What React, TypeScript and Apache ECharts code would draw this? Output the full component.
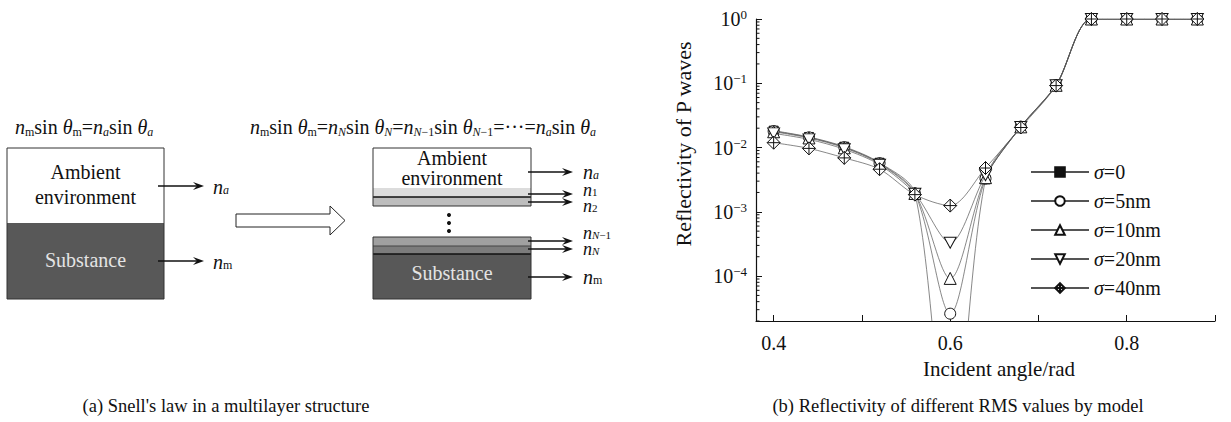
import React, { useEffect, useRef } from 'react';
import * as echarts from 'echarts';

// ---- data ----
const angles = [0.40, 0.44, 0.48, 0.52, 0.56, 0.60, 0.64, 0.68, 0.72, 0.76, 0.80, 0.84, 0.88];
const sigma0 = [0.0183, 0.0146, 0.0103, 0.0058, 0.00195, 0.0000001, 0.0032, 0.0212, 0.094, 1, 1, 1, 1];
const sigma5 = [0.0180, 0.0144, 0.0101, 0.0057, 0.00194, 0.000026, 0.0033, 0.0211, 0.094, 1, 1, 1, 1];
const sigma10 = [0.0176, 0.0141, 0.0099, 0.0056, 0.00193, 0.000092, 0.0034, 0.0210, 0.093, 1, 1, 1, 1];
const sigma20 = [0.0166, 0.0134, 0.0094, 0.0054, 0.00191, 0.00033, 0.0037, 0.0209, 0.093, 1, 1, 1, 1];
const sigma40 = [0.0119, 0.0097, 0.0069, 0.0046, 0.00185, 0.00125, 0.0048, 0.0205, 0.092, 1, 1, 1, 1];
const seriesNames = ['σ=0', 'σ=5nm', 'σ=10nm', 'σ=20nm', 'σ=40nm'];
const xTickValues = [0.4, 0.5, 0.6, 0.7, 0.8, 0.9];
const xLabelValues = [0.4, 0.6, 0.8];
const xMin = 0.38;
const xMax = 0.9;
const yMin = 2e-5;
const yMax = 1;
const yMinorTicks: number[] = [];
for (let k = -5; k < 0; k++) {
  for (let m = 2; m <= 9; m++) {
    const v = m * Math.pow(10, k);
    if (v >= yMin && v <= yMax) yMinorTicks.push(v);
  }
}

const F = 'Liberation Serif';

function makeRich(size: number, subSize: number, lh: number, slh: number) {
  return {
    n: { fontFamily: F, fontSize: size, fontStyle: 'italic', lineHeight: lh, verticalAlign: 'middle', fill: '#111' },
    t: { fontFamily: F, fontSize: size, fontStyle: 'italic', lineHeight: lh, verticalAlign: 'middle', fill: '#111' },
    r: { fontFamily: F, fontSize: size, lineHeight: lh, verticalAlign: 'middle', fill: '#111' },
    s: { fontFamily: F, fontSize: subSize, lineHeight: slh, verticalAlign: 'bottom', fill: '#111' },
    si: { fontFamily: F, fontSize: subSize, fontStyle: 'italic', lineHeight: slh, verticalAlign: 'bottom', fill: '#111' },
  } as any;
}
const formulaRich = makeRich(20, 12, 22, 9);
const labelRich = makeRich(20, 12, 18, 5);
const stackRich = makeRich(18, 11, 15, 4);

function buildGraphics() {
  const g: any[] = [];
  const T = (x: number, y: number, text: string, o: any = {}) =>
    g.push({
      type: 'text', x, y, rotation: o.rotation || 0, silent: true,
      style: {
        text, fontFamily: F, fontSize: o.size || 20, fontStyle: o.italic ? 'italic' : 'normal',
        fill: o.fill || '#111', align: o.align || 'left', verticalAlign: 'middle', rich: o.rich,
      },
    });
  const R = (x: number, y: number, w: number, h: number, fill: string, stroke?: string) =>
    g.push({ type: 'rect', silent: true, shape: { x, y, width: w, height: h }, style: { fill, stroke: stroke || null, lineWidth: 1 } });
  const L = (x1: number, y1: number, x2: number, y2: number, w = 1, c = '#111') =>
    g.push({ type: 'line', silent: true, shape: { x1, y1, x2, y2 }, style: { stroke: c, lineWidth: w } });
  const A = (x1: number, x2: number, y: number) => {
    L(x1, y, x2 - 5, y, 1.3);
    g.push({ type: 'polygon', silent: true, shape: { points: [[x2, y], [x2 - 11, y - 4], [x2 - 7, y], [x2 - 11, y + 4]] }, style: { fill: '#111' } });
  };

  // formulas
  T(15, 127, '{n|n}{s|m}{r|sin }{t|θ}{s|m}{r|=}{n|n}{si|a}{r|sin }{t|θ}{si|a}', { rich: formulaRich });
  T(250, 127,
    '{n|n}{s|m}{r|sin }{t|θ}{s|m}{r|=}{n|n}{si|N}{r|sin }{t|θ}{si|N}{r|=}{n|n}{si|N}{s|−1}{r|sin }{t|θ}{si|N}{s|−1}{r|=···=}{n|n}{si|a}{r|sin }{t|θ}{si|a}',
    { rich: formulaRich });

  // left single box
  R(7, 148, 157, 75, '#ffffff');
  R(7, 223, 157, 76, '#585858');
  R(7, 148, 157, 151, 'none', '#333');
  T(85.5, 172, 'Ambient', { align: 'center' });
  T(85.5, 197, 'environment', { align: 'center' });
  T(85.5, 260, 'Substance', { align: 'center', fill: '#e4e4e4' });
  A(158, 204, 186);
  A(158, 204, 261);
  T(213, 187, '{n|n}{si|a}', { rich: labelRich });
  T(213, 262, '{n|n}{s|m}', { rich: labelRich });

  // hollow arrow
  g.push({
    type: 'polygon', silent: true,
    shape: { points: [[236, 214], [330, 214], [330, 206], [345, 220.5], [330, 235], [330, 227], [236, 227]] },
    style: { fill: '#fff', stroke: '#222', lineWidth: 1 },
  });

  // right multilayer stack (upper)
  R(373, 148, 158, 40, '#ffffff');
  R(373, 188, 158, 9, '#dcdcdc');
  R(373, 197, 158, 9, '#bdbdbd');
  L(373, 197, 531, 197, 1.6);
  R(373, 148, 158, 58, 'none', '#333');
  T(452, 158, 'Ambient', { align: 'center' });
  T(452, 178, 'environment', { align: 'center' });
  // dots
  [215, 223, 231].forEach((cy) => g.push({ type: 'circle', silent: true, shape: { cx: 449, cy, r: 2 }, style: { fill: '#111' } }));
  // lower
  R(373, 237, 158, 9, '#a0a0a0');
  R(373, 246, 158, 8, '#7c7c7c');
  R(373, 254, 158, 45, '#585858');
  L(373, 246, 531, 246, 1, '#444');
  L(373, 254, 531, 254, 1.6, '#111');
  R(373, 237, 158, 62, 'none', '#333');
  T(452, 273, 'Substance', { align: 'center', fill: '#e4e4e4' });
  [172, 194, 202, 241, 249, 277].forEach((y) => A(528, 573, y));
  T(583, 172, '{n|n}{si|a}', { rich: labelRich });
  T(583, 190, '{n|n}{s|1}', { rich: stackRich });
  T(583, 206, '{n|n}{s|2}', { rich: stackRich });
  T(583, 233, '{n|n}{si|N}{s|−1}', { rich: stackRich });
  T(583, 249, '{n|n}{si|N}', { rich: stackRich });
  T(583, 277, '{n|n}{s|m}', { rich: labelRich });

  // captions and axis names
  T(226, 406, "(a) Snell's law in a multilayer structure", { align: 'center', size: 18.5 });
  T(958, 406, '(b) Reflectivity of different RMS values by model', { align: 'center', size: 18.5 });
  T(999, 369, 'Incident angle/rad', { align: 'center', size: 21 });
  T(683, 144, 'Reflectivity of P waves', { align: 'center', rotation: Math.PI / 2, size: 22 });
  return g;
}

function lineSeries(name: string, values: number[], symbol: string, size: any, fill: string, z: number) {
  return {
    name, type: 'line', z,
    data: angles.map((a, i) => [a, values[i]]),
    smooth: 0.3,
    symbol, symbolSize: size, showSymbol: true,
    lineStyle: { color: '#555', width: 0.7 },
    itemStyle: { color: fill, borderColor: '#111', borderWidth: 1 },
  };
}

export default function App() {
  const ref = useRef<HTMLDivElement>(null);
  useEffect(() => {
    if (!ref.current) return;
    const chart = echarts.init(ref.current, null, { renderer: 'svg' });
    const option: any = {
      animation: false,
      backgroundColor: '#fff',
      grid: { left: 756, top: 19, right: 16, bottom: 101, containLabel: false },
      xAxis: {
        type: 'value', min: xMin, max: xMax,
        axisLine: { lineStyle: { color: '#111', width: 1.2 } },
        axisTick: { inside: true, length: 6, customValues: xTickValues, lineStyle: { color: '#111' } },
        axisLabel: {
          customValues: xLabelValues, formatter: (v: number) => v.toFixed(1), margin: 12,
          fontFamily: F, fontSize: 20, color: '#111',
        },
        splitLine: { show: false },
      },
      yAxis: {
        type: 'log', logBase: 10, min: yMin, max: yMax,
        axisLine: { show: true, lineStyle: { color: '#111', width: 1.2 } },
        axisTick: { show: true, inside: true, length: 6, lineStyle: { color: '#111' } },
        axisLabel: {
          margin: 9, color: '#111',
          formatter: (v: number) => {
            const l = Math.log10(v);
            const e = Math.round(l);
            if (Math.abs(l - e) > 1e-6) return '';
            return e === 0 ? '{b|10}{p|0}' : `{b|10}{p|−${-e}}`;
          },
          rich: {
            b: { fontFamily: F, fontSize: 20, lineHeight: 22, color: '#111' },
            p: { fontFamily: F, fontSize: 13, lineHeight: 12, verticalAlign: 'top', color: '#111' },
          },
        },
        splitLine: { show: false },
      },
      legend: {
        orient: 'vertical', left: 1025, top: 157,
        itemWidth: 58, itemHeight: 12, itemGap: 9,
        data: seriesNames,
        formatter: (name: string) => `{i|σ}{r|${name.slice(1)}}`,
        textStyle: {
          fontFamily: F, fontSize: 20, color: '#111', lineHeight: 20,
          rich: {
            i: { fontFamily: F, fontSize: 20, fontStyle: 'italic', color: '#111', lineHeight: 20 },
            r: { fontFamily: F, fontSize: 20, color: '#111', lineHeight: 20 },
          },
        },
      },
      graphic: buildGraphics(),
      series: [
        lineSeries(seriesNames[0], sigma0, 'rect', 9, '#111', 2),
        lineSeries(seriesNames[1], sigma5, 'circle', 11, '#fff', 3),
        lineSeries(seriesNames[2], sigma10, 'triangle', 12, '#fff', 4),
        lineSeries(seriesNames[3], sigma20, 'path://M0,0L10,0L5,9Z', [12, 11], '#fff', 5),
        lineSeries(seriesNames[4], sigma40, 'path://M5,0L10,5L5,10L0,5Z M5,0L5,10 M0,5L10,5', 13, '#fff', 6),
        {
          type: 'custom', silent: true, z: 7,
          data: yMinorTicks.map((v) => [xMin, v]),
          renderItem: (params: any, api: any) => {
            const p = api.coord([xMin, api.value(1)]);
            return {
              type: 'line',
              shape: { x1: p[0], y1: p[1], x2: p[0] + 3.5, y2: p[1] },
              style: { stroke: '#111', lineWidth: 1 },
            };
          },
        },
      ],
    };
    chart.setOption(option);
    return () => chart.dispose();
  }, []);
  return <div ref={ref} style={{ position: 'absolute', left: 0, top: 0, width: 1231, height: 422 }} />;
}
